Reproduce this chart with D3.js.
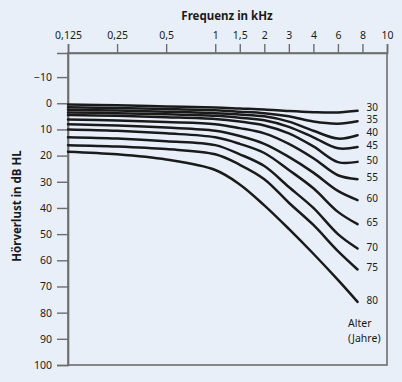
<!DOCTYPE html>
<html>
<head>
<meta charset="utf-8">
<script src="https://cdn.jsdelivr.net/npm/d3@7"></script>
<style>
  html, body { margin: 0; padding: 0; background: #e9eff9; }
  svg { display: block; }
  text { font-family: "Noto Sans", "Open Sans", sans-serif; fill: #1a1a1a; }
</style>
</head>
<body>
<svg id="chart" width="402" height="382"></svg>
<script>
// ---- data ----
const freqTicks = [0.125, 0.25, 0.5, 1, 1.5, 2, 3, 4, 6, 8, 10];
const freqLabels = ["0,125", "0,25", "0,5", "1", "1,5", "2", "3", "4", "6", "8", "10"];
const dbTicks = [-10, 0, 10, 20, 30, 40, 50, 60, 70, 80, 90, 100];
const dbLabels = ["\u221210", "0", "10", "20", "30", "40", "50", "60", "70", "80", "90", "100"];
const curveFreqs = [0.125, 0.25, 0.5, 1, 1.5, 2, 3, 4, 6, 7.6];
const ages = [30, 35, 40, 45, 50, 55, 60, 65, 70, 75, 80];
const loss30 = [0.5, 0.8, 1.2, 1.6, 2.0, 2.4, 3.0, 3.4, 3.5, 2.9];
const loss35 = [1.5, 1.8, 2.2, 2.7, 3.2, 3.8, 5.0, 7.0, 7.8, 6.9];
const loss40 = [2.5, 2.8, 3.2, 3.8, 4.3, 5.0, 7.0, 10.5, 13.5, 12.2];
const loss45 = [3.5, 3.8, 4.2, 4.8, 5.5, 6.5, 9.0, 13.0, 17.2, 16.7];
const loss50 = [4.5, 4.8, 5.3, 6.0, 7.0, 8.5, 11.5, 16.5, 22.5, 22.4];
const loss55 = [6.2, 6.6, 7.2, 8.0, 9.5, 11.5, 15.5, 21.0, 27.5, 29.0];
const loss60 = [8.0, 8.5, 9.3, 10.5, 12.5, 15.5, 20.5, 26.5, 33.5, 37.0];
const loss65 = [10.0, 10.5, 11.5, 13.0, 15.5, 19.0, 25.5, 32.5, 41.5, 46.2];
const loss70 = [13.0, 13.5, 14.5, 16.0, 19.5, 24.0, 32.0, 40.0, 50.0, 55.5];
const loss75 = [16.0, 16.5, 17.5, 19.5, 23.5, 29.0, 38.0, 46.5, 56.5, 63.5];
const loss80 = [18.5, 19.5, 21.5, 25.5, 31.0, 39.0, 48.0, 57.5, 67.5, 75.9];
const lossSeries = [loss30, loss35, loss40, loss45, loss50, loss55, loss60, loss65, loss70, loss75, loss80];

// ---- layout ----
const mLeft = 68, mRight = 387, mTop = 53, mBottom = 365;
const svg = d3.select("#chart");

// audiogram-style frequency axis: equal spacing per half-octave slot
const slot = f => Math.round(2 * Math.log2(f / 0.125));
const slotScale = d3.scaleLinear().domain([0, slot(10)]).range([mLeft, mRight]);
const x = d3.scaleLinear().domain(freqTicks).range(freqTicks.map(f => slotScale(slot(f))));
const y = d3.scaleLinear().domain([-19.2, 100]).range([mTop, mBottom]);

// frame
const frameColor = "#6d6d6d";
svg.append("rect")
  .attr("x", mLeft).attr("y", mTop)
  .attr("width", mRight - mLeft).attr("height", mBottom - mTop)
  .attr("fill", "none").attr("stroke", frameColor).attr("stroke-width", 1.6);

// top axis
const xAxis = d3.axisTop(x).tickValues(freqTicks)
  .tickFormat((d, i) => freqLabels[i]).tickSize(9).tickPadding(5);
const gx = svg.append("g").attr("transform", `translate(0,${mTop})`).call(xAxis);
gx.select(".domain").attr("stroke", frameColor).attr("stroke-width", 1.6);
gx.selectAll(".tick line").attr("stroke", frameColor).attr("stroke-width", 1.4);
gx.selectAll(".tick text").style("font-size", "10.5px").attr("fill", "#1a1a1a");

// left axis
const yAxis = d3.axisLeft(y).tickValues(dbTicks)
  .tickFormat((d, i) => dbLabels[i]).tickSize(11).tickPadding(5);
const gy = svg.append("g").attr("transform", `translate(${mLeft},0)`).call(yAxis);
gy.select(".domain").attr("stroke", frameColor).attr("stroke-width", 1.6);
gy.selectAll(".tick line").attr("stroke", frameColor).attr("stroke-width", 1.4);
gy.selectAll(".tick text").style("font-size", "10.5px").attr("fill", "#1a1a1a");

// titles
svg.append("text").attr("x", 227).attr("y", 20).attr("text-anchor", "middle")
  .style("font-size", "11.5px").style("font-weight", "bold").text("Frequenz in kHz");
svg.append("text").attr("transform", "translate(21,206) rotate(-90)")
  .attr("text-anchor", "middle")
  .style("font-size", "11.5px").style("font-weight", "bold").text("Hörverlust in dB HL");

// curves
const line = d3.line()
  .x((d, i) => x(curveFreqs[i]))
  .y(d => y(d))
  .curve(d3.curveCatmullRom.alpha(0.5));

svg.append("g").selectAll("path").data(lossSeries).join("path")
  .attr("d", line)
  .attr("fill", "none")
  .attr("stroke", "#1a1a1a")
  .attr("stroke-width", 2.5)
  .attr("stroke-linecap", "round");

// age labels with simple spacing so neighbours do not collide
const minGap = 12.5;
const labelY = lossSeries.map(d => y(d[d.length - 1]) - 1.5);
for (let i = labelY.length - 2; i >= 0; i--) {
  if (labelY[i + 1] - labelY[i] < minGap) labelY[i] = labelY[i + 1] - minGap;
}
svg.append("g").selectAll("text").data(lossSeries).join("text")
  .attr("x", x(curveFreqs[curveFreqs.length - 1]) + 9)
  .attr("y", (d, i) => labelY[i])
  .attr("dy", "0.35em")
  .style("font-size", "10px")
  .text((d, i) => ages[i]);

svg.append("text").attr("x", 348).attr("y", 327).style("font-size", "10.5px").text("Alter");
svg.append("text").attr("x", 348).attr("y", 342).style("font-size", "10.5px").text("(Jahre)");
</script>
</body>
</html>
